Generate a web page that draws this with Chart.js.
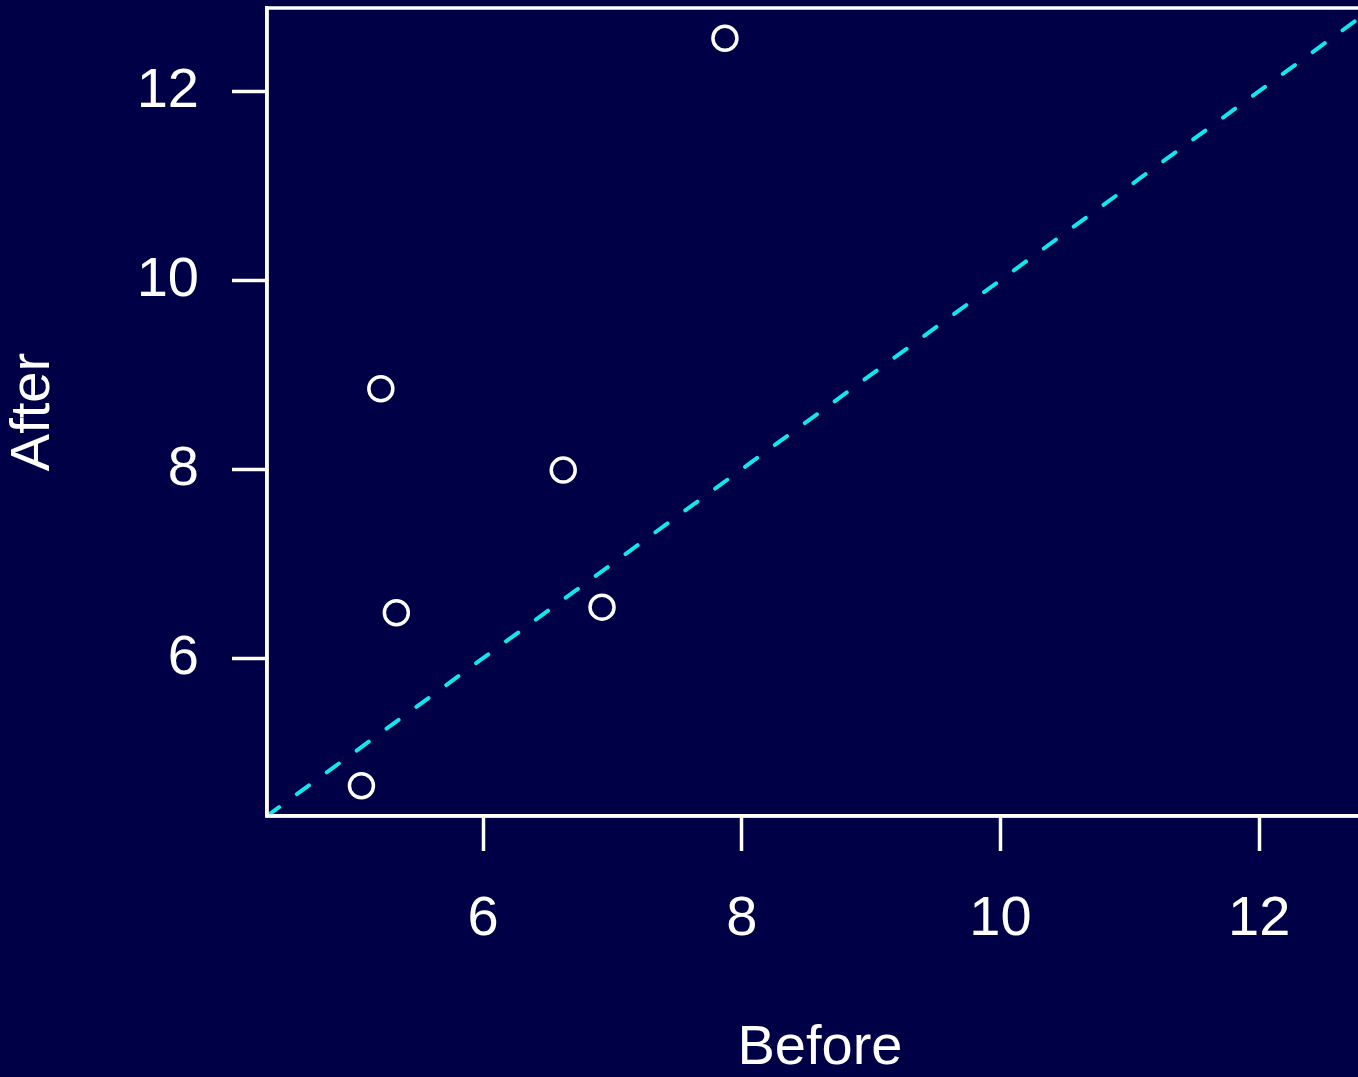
<!DOCTYPE html>
<html>
<head>
<meta charset="utf-8">
<script src="https://cdn.jsdelivr.net/npm/chart.js@4.4.1/dist/chart.umd.min.js"></script>
<style>
  html, body { margin: 0; padding: 0; background: #000046; overflow: hidden; }
  #grafico { position: absolute; left: 0; top: 0; }
</style>
</head>
<body>
<canvas id="grafico" width="1400" height="1077"></canvas>
<script>
// valores
const beforeVals = [7.87, 5.21, 6.62, 5.33, 6.92, 5.06];
const afterVals = [12.56, 8.85, 7.99, 6.48, 6.54, 4.65];
const xTicks = [6, 8, 10, 12];
const yTicks = [6, 8, 10, 12];
const axisMin = 4.33;
const axisMax = 12.88;
// linha y = x
const lineVals = [axisMin, axisMax];

const fonte = 'Liberation Sans, Arial, sans-serif';

// moldura em volta da area do grafico
const moldura = {
    id: 'moldura',
    afterDatasetsDraw(chart) {
        const a = chart.chartArea;
        const ctx = chart.ctx;
        ctx.save();
        ctx.strokeStyle = '#ffffff';
        ctx.lineWidth = 3.5;
        ctx.strokeRect(a.left, a.top, a.right - a.left, a.bottom - a.top);
        ctx.restore();
    }
};

function fixaTicks(lista) {
    return function (scale) {
        scale.ticks = lista.map(v => ({ value: v }));
    };
}

const data = {
    datasets: [{
        type: 'line',
        data: lineVals.map(v => ({ x: v, y: v })),
        borderColor: '#10e8ee',
        borderWidth: 4,
        borderDash: [15, 22],
        borderCapStyle: 'round',
        pointRadius: 0,
        fill: false
    }, {
        type: 'scatter',
        data: beforeVals.map((v, i) => ({ x: v, y: afterVals[i] })),
        borderColor: '#ffffff',
        backgroundColor: 'rgba(0,0,0,0)',
        borderWidth: 3.5,
        pointRadius: 12
    }]
};

const config = {
    type: 'scatter',
    data: data,
    options: {
        responsive: false,
        animation: false,
        layout: { autoPadding: false, padding: { top: 8, right: 27, left: 0, bottom: 0 } },
        plugins: { legend: { display: false }, tooltip: { enabled: false } },
        scales: {
            x: {
                type: 'linear',
                min: axisMin,
                max: axisMax,
                afterBuildTicks: fixaTicks(xTicks),
                afterFit(scale) {
                    scale.height = 261;
                    scale.paddingLeft = 0;
                    scale.paddingRight = 0;
                },
                grid: {
                    drawOnChartArea: false,
                    tickLength: 35,
                    tickWidth: 3.5,
                    tickColor: '#ffffff'
                },
                border: { display: true, color: '#ffffff', width: 3.5 },
                ticks: {
                    color: '#ffffff',
                    padding: 35,
                    maxRotation: 0,
                    font: { family: fonte, size: 56 }
                },
                title: {
                    display: true,
                    text: 'Before',
                    color: '#ffffff',
                    padding: { top: 0, bottom: 0 },
                    font: { family: fonte, size: 56, lineHeight: 1 }
                }
            },
            y: {
                type: 'linear',
                min: axisMin,
                max: axisMax,
                afterBuildTicks: fixaTicks(yTicks),
                afterFit(scale) {
                    scale.width = 267;
                    scale.paddingTop = 0;
                    scale.paddingBottom = 0;
                },
                grid: {
                    drawOnChartArea: false,
                    tickLength: 35,
                    tickWidth: 3.5,
                    tickColor: '#ffffff'
                },
                border: { display: true, color: '#ffffff', width: 3.5 },
                ticks: {
                    color: '#ffffff',
                    padding: 33,
                    font: { family: fonte, size: 56 }
                },
                title: {
                    display: true,
                    text: 'After',
                    color: '#ffffff',
                    padding: { top: 6, bottom: 0 },
                    font: { family: fonte, size: 56, lineHeight: 1 }
                }
            }
        }
    },
    plugins: [moldura]
};

const grafico = new Chart(document.getElementById('grafico'), config);
</script>
</body>
</html>
